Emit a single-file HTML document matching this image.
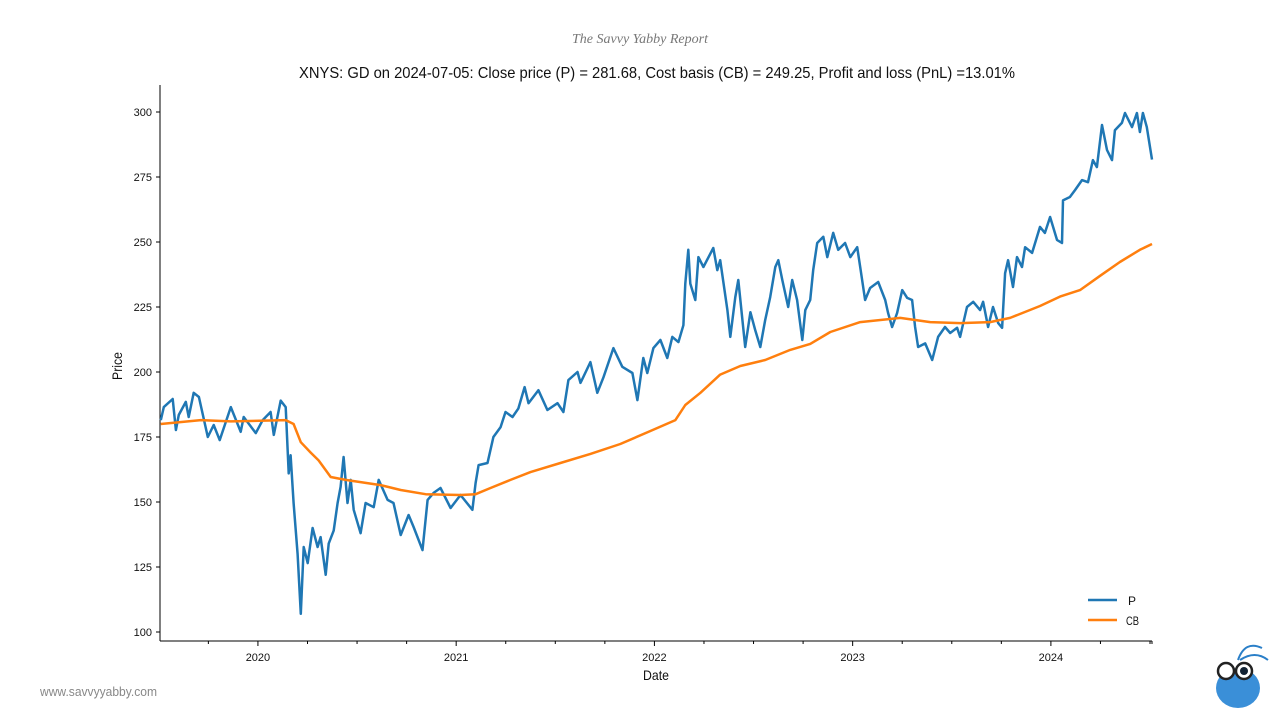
<!DOCTYPE html>
<html><head><meta charset="utf-8">
<style>
body{margin:0;background:#fff;width:1280px;height:720px;overflow:hidden;font-family:"Liberation Sans",sans-serif;}
svg text{font-family:"Liberation Sans",sans-serif;fill:#111;}
</style></head>
<body>
<svg id="chart" width="1280" height="720" xmlns="http://www.w3.org/2000/svg">
<text x="640" y="43" text-anchor="middle" font-size="14" font-style="italic" style="fill:#777;font-family:'Liberation Serif',serif">The Savvy Yabby Report</text>
<text x="299" y="78" font-size="16" textLength="716" lengthAdjust="spacingAndGlyphs">XNYS: GD on 2024-07-05: Close price (P) = 281.68, Cost basis (CB) = 249.25, Profit and loss (PnL) =13.01%</text>
<text transform="translate(122,366) rotate(-90)" text-anchor="middle" font-size="14" textLength="28" lengthAdjust="spacingAndGlyphs">Price</text>
<text x="656" y="680" text-anchor="middle" font-size="14" textLength="26" lengthAdjust="spacingAndGlyphs">Date</text>
<text x="40" y="696" font-size="12.5" style="fill:#888" textLength="117" lengthAdjust="spacingAndGlyphs">www.savvyyabby.com</text>
<g id="axes"></g>
<g id="series"></g>
<g>
<line x1="1088" y1="600" x2="1117" y2="600" stroke="#1f77b4" stroke-width="2.5"/>
<text x="1128" y="605" font-size="12">P</text>
<line x1="1088" y1="620" x2="1117" y2="620" stroke="#ff7f0e" stroke-width="2.5"/>
<text x="1126" y="625" font-size="12" textLength="13" lengthAdjust="spacingAndGlyphs">CB</text>
</g>
<g>
<ellipse cx="1238" cy="688" rx="22" ry="20" fill="#3a8fd8"/>
<circle cx="1226" cy="671" r="8" fill="#fff" stroke="#222" stroke-width="2.5"/>
<circle cx="1244" cy="671" r="8" fill="#fff" stroke="#222" stroke-width="2.5"/>
<circle cx="1244" cy="671" r="4" fill="#123"/>
<path d="M1238 660 Q1245 640 1262 648 M1240 660 Q1255 650 1268 660" stroke="#2a7fc8" stroke-width="2" fill="none"/>
</g>
</svg>
<script>
const priceDates=[2019.510,2019.525,2019.570,2019.586,2019.601,2019.636,2019.651,2019.676,2019.702,2019.747,2019.777,2019.807,2019.863,2019.913,2019.928,2019.989,2020.024,2020.064,2020.080,2020.115,2020.140,2020.155,2020.165,2020.180,2020.200,2020.216,2020.231,2020.251,2020.276,2020.301,2020.316,2020.342,2020.357,2020.382,2020.402,2020.417,2020.432,2020.452,2020.468,2020.483,2020.518,2020.543,2020.584,2020.609,2020.654,2020.684,2020.720,2020.760,2020.785,2020.830,2020.856,2020.886,2020.921,2020.972,2021.022,2021.082,2021.098,2021.113,2021.158,2021.188,2021.224,2021.249,2021.284,2021.314,2021.345,2021.365,2021.415,2021.460,2021.511,2021.541,2021.566,2021.612,2021.627,2021.677,2021.712,2021.743,2021.793,2021.838,2021.889,2021.914,2021.944,2021.964,2021.995,2022.030,2022.065,2022.090,2022.121,2022.146,2022.156,2022.171,2022.181,2022.206,2022.222,2022.247,2022.297,2022.317,2022.332,2022.368,2022.383,2022.408,2022.423,2022.458,2022.484,2022.509,2022.534,2022.559,2022.584,2022.610,2022.625,2022.645,2022.675,2022.695,2022.720,2022.746,2022.761,2022.786,2022.801,2022.821,2022.852,2022.872,2022.902,2022.927,2022.962,2022.988,2023.023,2023.038,2023.063,2023.088,2023.129,2023.164,2023.179,2023.199,2023.224,2023.250,2023.275,2023.300,2023.315,2023.330,2023.366,2023.401,2023.431,2023.466,2023.492,2023.527,2023.542,2023.577,2023.608,2023.643,2023.658,2023.683,2023.708,2023.734,2023.754,2023.769,2023.784,2023.809,2023.829,2023.854,2023.870,2023.905,2023.930,2023.945,2023.970,2023.996,2024.031,2024.056,2024.061,2024.096,2024.122,2024.157,2024.187,2024.212,2024.232,2024.258,2024.283,2024.308,2024.323,2024.358,2024.374,2024.409,2024.434,2024.449,2024.464,2024.484,2024.510];
const priceValues=[181.5,186.5,189.6,177.7,183.5,188.5,182.7,192,190.4,175,179.6,173.8,186.5,177,182.7,176.5,181.5,184.6,175.8,189,186.5,161,168,149.6,130,107,132.7,126.5,140,132.7,136.5,122,134,139,149.6,155.8,167.3,149.6,158.5,147,138,149.6,148,158.5,150.8,149.6,137.3,145,140.4,131.5,150.8,153.5,155.4,147.7,152.7,147,157.3,164.2,165,175,178.8,184.6,182.7,186,194.2,188,193,185.4,188,184.6,196.9,200,195.8,203.8,192,198,209.2,202,199.6,189.2,205.4,199.6,209.2,212.3,205.4,213.5,211.5,218,234,247,234,227.7,244.2,240.4,247.7,239.2,243,223.8,213.5,228.8,235.4,209.6,223,216,209.6,220,228.8,240.4,243,235.4,225,235.4,227.7,212.3,223.8,227.7,239.2,249.6,252,244.2,253.5,247,249.6,244.2,248,240.4,227.7,232.3,234.6,227.7,222.7,217.3,222.7,231.5,228.5,227.7,217.3,209.6,211,204.6,213.5,217.3,215,217,213.5,225,227,223.8,227,217.3,225,218.8,217,238,243,232.7,244.2,240.4,248,245.8,252,255.8,253.5,259.6,250.8,249.6,266,267.3,270,273.8,273,281.5,278.8,295,285.4,281.5,293,295.8,299.6,294.2,299.6,292.3,299.6,294.2,281.68];
const cbDates=[2019.510,2019.712,2019.863,2020.140,2020.180,2020.216,2020.266,2020.306,2020.367,2020.442,2020.619,2020.720,2020.846,2021.022,2021.098,2021.173,2021.274,2021.375,2021.526,2021.677,2021.828,2021.980,2022.106,2022.156,2022.232,2022.332,2022.433,2022.559,2022.685,2022.786,2022.887,2023.038,2023.240,2023.391,2023.542,2023.693,2023.794,2023.945,2024.046,2024.147,2024.248,2024.348,2024.449,2024.510];
const cbValues=[180,181.5,181,181.5,180,173,169,166,159.6,158.5,156.5,154.6,153,152.7,153,155.4,158.5,161.5,165,168.5,172.3,177.3,181.5,187.3,192,199,202.3,204.6,208.5,210.8,215.4,219.2,220.8,219.2,218.8,219.2,220.8,225.4,229,231.5,237,242.3,247,249.25];
const yTicks=[100,125,150,175,200,225,250,275,300];
const xYears=[2020,2021,2022,2023,2024];

const NS="http://www.w3.org/2000/svg";
const X0=160,X1=1152,Y0=641,YT=85;
const tMin=2019.506,tMax=2024.51;
const xs=t=>X0+(t-tMin)/(tMax-tMin)*(X1-X0);
const ys=v=>112+(300-v)*2.6;
function mk(tag,attrs,parent){const e=document.createElementNS(NS,tag);for(const k in attrs)e.setAttribute(k,attrs[k]);parent.appendChild(e);return e;}
const axes=document.getElementById('axes');
const yAxis=mk('line',{x1:X0,y1:YT,x2:X0,y2:Y0,stroke:'#000','stroke-width':1},axes);


const xAxis=mk('line',{x1:X0,y1:Y0,x2:X1,y2:Y0,stroke:'#000','stroke-width':1},axes);


yTicks.forEach(v=>{
  mk('line',{x1:X0-4,y1:ys(v),x2:X0,y2:ys(v),stroke:'#000'},axes);
  const t=mk('text',{x:X0-8,y:ys(v)+4,'text-anchor':'end','font-size':11},axes);
  
  
  t.textContent=v;
});
for(let y=2019.75;y<=tMax;y+=0.25){
  const major=Math.abs(y-Math.round(y))<1e-6;
  mk('line',{x1:xs(y),y1:Y0,x2:xs(y),y2:Y0+(major?5:3),stroke:'#000'},axes);
}
mk('line',{x1:X1,y1:Y0,x2:X1,y2:Y0+3,stroke:'#000'},axes);
xYears.forEach(yr=>{
  const t=mk('text',{x:xs(yr),y:Y0+20,'text-anchor':'middle','font-size':11},axes);
  
  
  t.textContent=yr;
});
const series=document.getElementById('series');
const pd=priceDates.map((t,i)=>(i?'L':'M')+xs(t).toFixed(1)+' '+ys(priceValues[i]).toFixed(1)).join(' ');
const pl=mk('path',{d:pd,fill:'none',stroke:'#1f77b4','stroke-width':2.5,'stroke-linejoin':'round'},series);


const cd=cbDates.map((t,i)=>(i?'L':'M')+xs(t).toFixed(1)+' '+ys(cbValues[i]).toFixed(1)).join(' ');
const cl=mk('path',{d:cd,fill:'none',stroke:'#ff7f0e','stroke-width':2.5,'stroke-linejoin':'round'},series);


</script>
</body></html>
